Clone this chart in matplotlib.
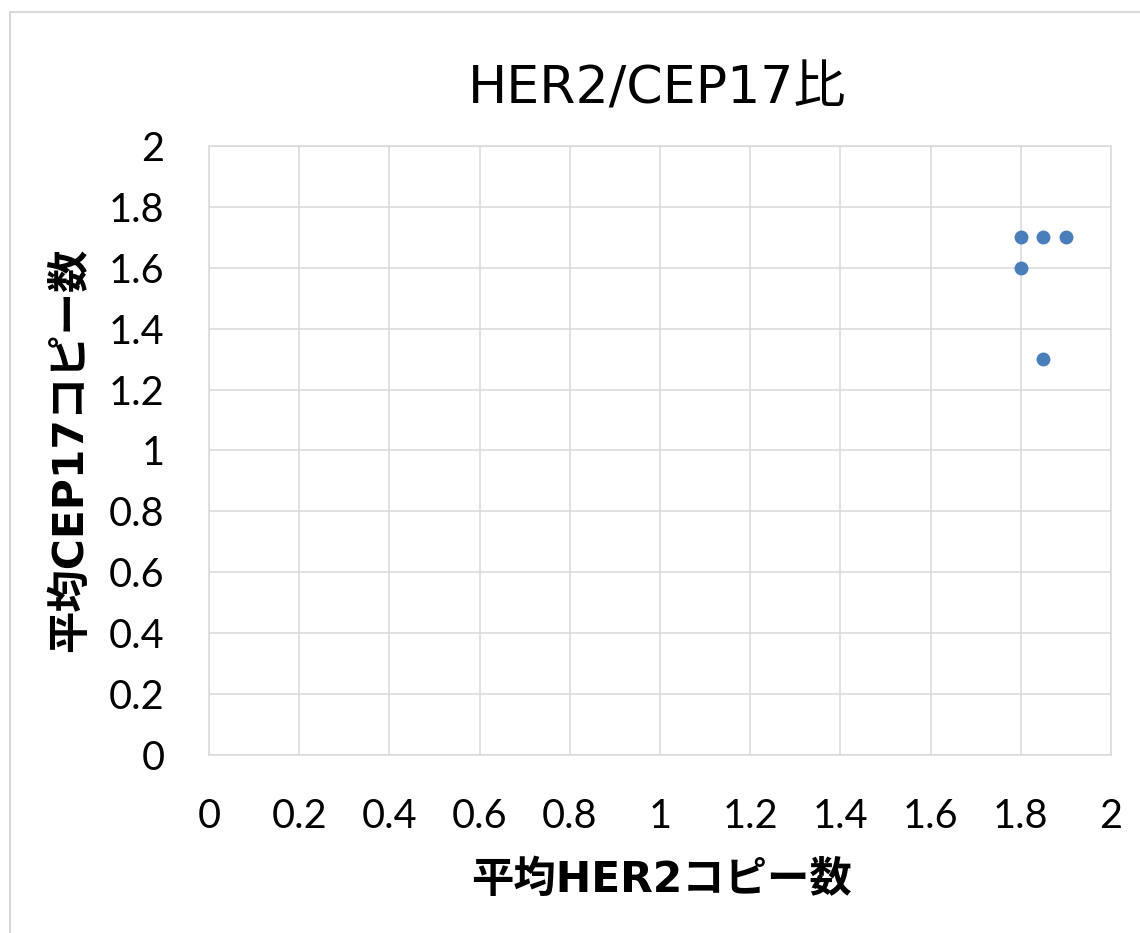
import matplotlib
matplotlib.use("Agg")
import matplotlib.pyplot as plt
from matplotlib.patches import Rectangle

plt.rcParams['font.family'] = ['DejaVu Sans', 'Noto Sans CJK JP']

# Data
her2_copies = [1.8, 1.85, 1.9, 1.8, 1.85]
cep17_copies = [1.7, 1.7, 1.7, 1.6, 1.3]
tick_values = [0, 0.2, 0.4, 0.6, 0.8, 1, 1.2, 1.4, 1.6, 1.8, 2]
tick_labels = ['0', '0.2', '0.4', '0.6', '0.8', '1', '1.2', '1.4', '1.6', '1.8', '2']
title = 'HER2/CEP17比'
xlabel = '平均HER2コピー数'
ylabel = '平均CEP17コピー数'

W, H = 1140, 933
fig = plt.figure(figsize=(W / 100, H / 100), dpi=100)
fig.patch.set_facecolor('white')

# outer chart border (top and left visible)
fig.add_artist(Rectangle((10 / W, -0.1), 2.0, (H - 12) / H + 0.1, transform=fig.transFigure,
                         fill=False, edgecolor='#d9d9d9', linewidth=1.5))

ax = fig.add_axes([209 / W, (H - 755) / H, (1111 - 209) / W, (755 - 146) / H])
ax.set_xlim(0, 2)
ax.set_ylim(0, 2)
ax.set_xticks(tick_values)
ax.set_xticklabels(tick_labels, family=['Lato', 'DejaVu Sans'])
ax.set_yticks(tick_values)
ax.set_yticklabels(tick_labels, family=['Lato', 'DejaVu Sans'])
ax.grid(True, color='#d9d9d9', linewidth=1.1)
ax.set_axisbelow(True)
for s in ax.spines.values():
    s.set_color('#d9d9d9')
    s.set_linewidth(1.1)
ax.tick_params(length=0, labelsize=28.5, colors='black')
ax.tick_params(axis='x', pad=31)
ax.tick_params(axis='y', pad=32)

ax.scatter(her2_copies, cep17_copies, s=100, color='#4a7ebb', zorder=3, clip_on=False,
           linewidths=0)

fig.text(657 / W, 1 - 90 / H, title, ha='center', va='center', fontsize=37.5,
         family=['DejaVu Sans', 'Noto Sans CJK JP'])
fig.text(661 / W, 1 - 880 / H, xlabel, ha='center', va='center', fontsize=30.5,
         fontweight='bold', family=['DejaVu Sans', 'Noto Sans CJK JP'])
fig.text(70 / W, 1 - 450 / H, ylabel, ha='center', va='center', fontsize=30.5,
         fontweight='bold', rotation=90, family=['DejaVu Sans', 'Noto Sans CJK JP'])

fig.savefig('out.png', dpi=100)
